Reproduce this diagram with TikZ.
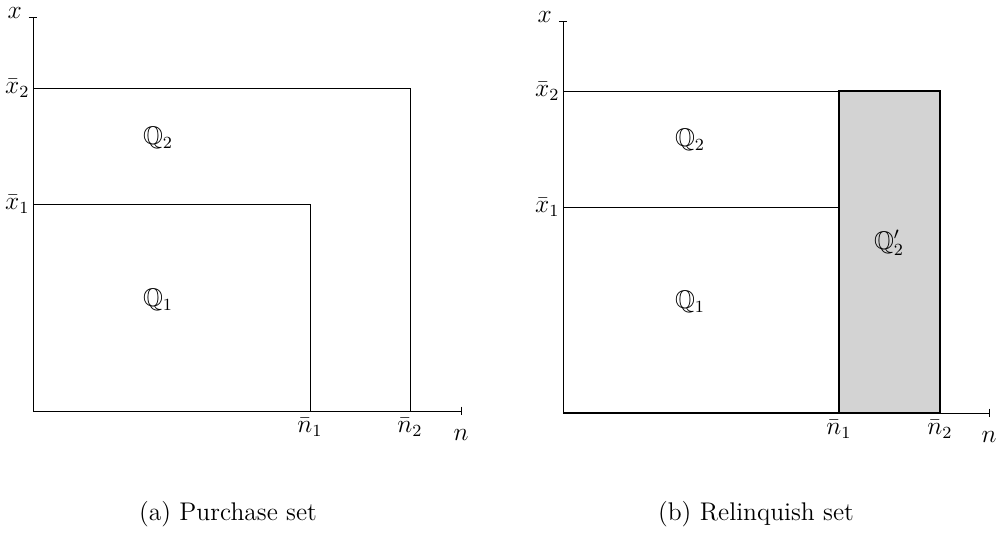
\documentclass[tikz,border=0pt]{standalone}
\usepackage{amsmath,amssymb}
\usepackage{tikz}
\usetikzlibrary{arrows.meta,positioning}
\definecolor{setGray}{HTML}{D3D3D3}

\begin{document}
\begin{tikzpicture}[
    x=0.47pt, y=0.47pt,
    font=\large,
    axis/.style={-{Bar[width=4pt]}},
    bound/.style={draw},
    region/.style={draw, fill=setGray, thick},
    tickx/.style={anchor=north, inner sep=3pt},
    ticky/.style={anchor=east, inner sep=1.5pt},
    caption/.style={font=\large}
]
    \useasboundingbox (0,0) rectangle (997,534);

    % (a) purchase set
    \begin{scope}[shift={(33,123)}]
        \coordinate (oA) at (0,0);
        \coordinate (xEndA) at (429,0);
        \coordinate (yEndA) at (0,394);
        \coordinate (xTwoA) at (0,323);
        \coordinate (xOneA) at (0,207);
        \coordinate (nOneA) at (277,0);
        \coordinate (nTwoA) at (377,0);
        \coordinate (cOneA) at (277,207);
        \coordinate (cTwoA) at (377,323);

        \draw[axis] (oA) -- (xEndA);
        \draw[axis] (oA) -- (yEndA);
        \draw[bound] (xTwoA) -- (cTwoA) -- (nTwoA);
        \draw[bound] (xOneA) -- (cOneA) -- (nOneA);

        \node[anchor=east, inner sep=5pt] (xLblA) at (0,398) {$x$};
        \node (nLblA) at (428,-24) {$n$};
        \node[ticky] (xTwoLblA) at (xTwoA) {$\bar{x}_2$};
        \node[ticky] (xOneLblA) at (xOneA) {$\bar{x}_1$};
        \node[tickx] (nOneLblA) at (nOneA) {$\bar{n}_1$};
        \node[tickx] (nTwoLblA) at (nTwoA) {$\bar{n}_2$};
        \node (qTwoA) at (125,273) {$\mathbb{Q}_2$};
        \node (qOneA) at (125,111) {$\mathbb{Q}_1$};
        \node[caption] (capA) at (195,-103) {(a) Purchase set};
    \end{scope}

    % (b) relinquish set
    \begin{scope}[shift={(563,121)}]
        \coordinate (oB) at (0,0);
        \coordinate (xEndB) at (427,0);
        \coordinate (yEndB) at (0,392);
        \coordinate (xTwoB) at (0,322);
        \coordinate (xOneB) at (0,206);
        \coordinate (nOneB) at (276,0);
        \coordinate (nTwoB) at (377,0);
        \coordinate (cOneB) at (276,206);
        \coordinate (cTwoB) at (377,322);

        \draw[region] (nOneB) rectangle (cTwoB);
        \draw[axis] (oB) -- (xEndB);
        \draw[axis] (oB) -- (yEndB);
        \draw[bound, thick] (oB) -- (nOneB);
        \draw[bound] (xTwoB) -- (276,322);
        \draw[bound] (xOneB) -- (cOneB);

        \node[anchor=east, inner sep=5pt] (xLblB) at (0,396) {$x$};
        \node (nLblB) at (426,-24) {$n$};
        \node[ticky] (xTwoLblB) at (xTwoB) {$\bar{x}_2$};
        \node[ticky] (xOneLblB) at (xOneB) {$\bar{x}_1$};
        \node[tickx] (nOneLblB) at (nOneB) {$\bar{n}_1$};
        \node[tickx] (nTwoLblB) at (nTwoB) {$\bar{n}_2$};
        \node (qTwoB) at (127,273) {$\mathbb{Q}_2$};
        \node (qOneB) at (127,111) {$\mathbb{Q}_1$};
        \node (qTwoPB) at (326,170) {$\mathbb{Q}_2'$};
        \node[caption] (capB) at (193,-101) {(b) Relinquish set};
    \end{scope}
\end{tikzpicture}
\end{document}
